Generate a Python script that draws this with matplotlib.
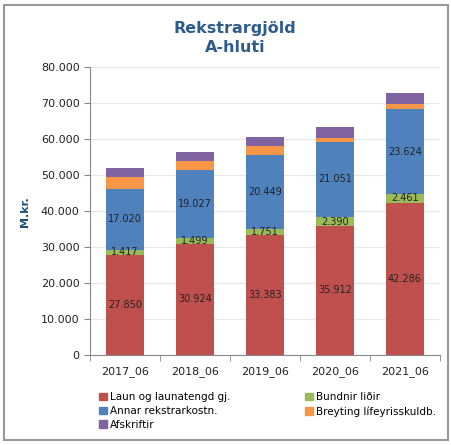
import numpy as np
import matplotlib.pyplot as plt
from matplotlib.patches import Rectangle, Patch
from matplotlib.ticker import FuncFormatter

# data (M.kr.)
years = ['2017_06', '2018_06', '2019_06', '2020_06', '2021_06']
laun = [27850, 30924, 33383, 35912, 42286]
bundnir = [1417, 1499, 1751, 2390, 2461]
annar = [17020, 19027, 20449, 21051, 23624]
breyting = [3300, 2400, 2500, 900, 1400]
afskriftir = [2400, 2500, 2600, 3000, 3100]

series = [
    ('Laun og launatengd gj.', laun, '#C0504D', True),
    ('Bundnir liðir', bundnir, '#9BBB59', True),
    ('Annar rekstrarkostn.', annar, '#4F81BD', True),
    ('Breyting lífeyrisskuldb.', breyting, '#F79646', False),
    ('Afskriftir', afskriftir, '#8064A2', False),
]

def dot_fmt(v):
    return f'{int(round(v)):,}'.replace(',', '.')

fig = plt.figure(figsize=(4.52, 4.45), dpi=100)
ax = fig.add_axes([0.199, 0.202, 0.774, 0.647])

x = np.arange(len(years))
bottom = np.zeros(len(years))
for name, vals, col, show in series:
    vals = np.array(vals, dtype=float)
    ax.bar(x, vals, 0.54, bottom=bottom, color=col, label=name, zorder=3)
    if show:
        for xi, b, v in zip(x, bottom, vals):
            ax.text(xi, b + v / 2, dot_fmt(v), ha='center', va='center',
                    fontsize=7, color='#222222', zorder=4)
    bottom += vals

ax.set_xlim(-0.5, len(years) - 0.5)
ax.set_ylim(0, 80000)
ax.set_yticks(np.arange(0, 80001, 10000))
ax.yaxis.set_major_formatter(FuncFormatter(lambda v, p: dot_fmt(v)))
ax.set_xticks(x)
ax.set_xticklabels(years)
ax.set_xticks(np.arange(-0.5, len(years), 1), minor=True)
ax.tick_params(axis='x', which='major', length=0, pad=8, labelsize=8, colors='#222222')
ax.tick_params(axis='x', which='minor', length=4, color='#888888')
ax.tick_params(axis='y', length=4, color='#888888', labelsize=8, colors='#222222')
ax.grid(axis='y', color='#e6e6e6', linewidth=0.8, zorder=0)
for s in ['top', 'right']:
    ax.spines[s].set_visible(False)
ax.spines['left'].set_color('#888888')
ax.spines['bottom'].set_color('#888888')

ax.set_ylabel('M.kr.', color='#1F4E79', fontsize=8, fontweight='bold', labelpad=8)

fig.text(0.52, 0.915, 'Rekstrargjöld\nA-hluti', ha='center', va='center',
         fontsize=11.5, fontweight='bold', color='#2E5C8A', linespacing=1.3)

handles = [Patch(color=c) for _, _, c, _ in series]
labels = [n for n, _, _, _ in series]
order = [0, 2, 4, 1, 3]
fig.legend([handles[i] for i in order], [labels[i] for i in order],
           loc='upper left', bbox_to_anchor=(0.22, 0.118), ncol=2, frameon=False,
           fontsize=7.5, handlelength=0.7, handleheight=0.7, handletextpad=0.3,
           columnspacing=7.2, labelspacing=0.35, borderaxespad=0, borderpad=0)

fig.patches.append(Rectangle((0.008, 0.012), 0.984, 0.976, transform=fig.transFigure,
                             fill=False, edgecolor='#999999', linewidth=1.5))

fig.savefig('out.png', dpi=100)
